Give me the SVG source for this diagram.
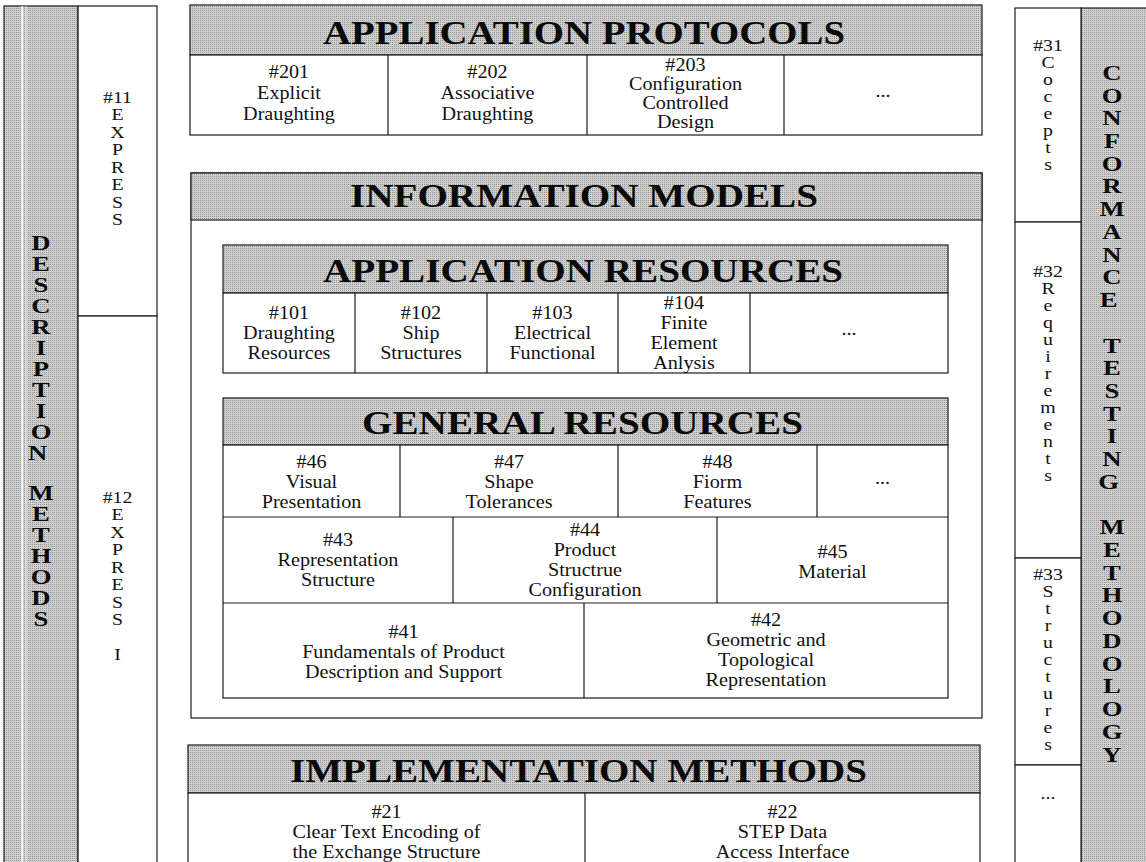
<svg xmlns="http://www.w3.org/2000/svg" width="1146" height="862" viewBox="0 0 1146 862">
  <defs>
    <!-- halftone grey used for all title bands and side columns -->
    <pattern id="dots" width="2" height="2" patternUnits="userSpaceOnUse">
      <rect width="2" height="2" fill="#d0d0d0"/>
      <rect width="1" height="1" fill="#949494"/>
    </pattern>
    <style>
      .hdr{fill:url(#dots);stroke:#1c1c1c;stroke-width:1.2}
      .box{fill:#fff;stroke:#1c1c1c;stroke-width:1.2}
      .ln{stroke:#1c1c1c;stroke-width:1.2;fill:none}
      .ttl{font-family:"Liberation Serif","Times New Roman",serif;font-weight:bold;font-size:34px;fill:#0a0a0a}
      .t{font-family:"Liberation Serif","Times New Roman",serif;font-size:18px;text-anchor:middle;fill:#111}
      .v{font-family:"Liberation Serif","Times New Roman",serif;font-size:16.5px;text-anchor:middle;fill:#111}
      .big{font-family:"Liberation Serif","Times New Roman",serif;font-weight:bold;font-size:21px;text-anchor:middle;fill:#0a0a0a}
    </style>
  </defs>

  <rect width="1146" height="862" fill="#fff"/>

  <!-- left side: description methods -->
  <g id="description-methods">
    <rect class="hdr" x="4" y="6" width="74" height="860"/>
    <line x1="22" y1="6" x2="22" y2="862" stroke="#fff" stroke-width="1.5"/>
    <line x1="26" y1="6" x2="26" y2="862" stroke="#eee" stroke-width="1"/>
    <g transform="translate(41 0) scale(1.27 1)">
      <text class="big">
        <tspan x="0" y="250">D</tspan><tspan x="0" y="271">E</tspan><tspan x="0" y="292">S</tspan><tspan x="0" y="313">C</tspan><tspan x="0" y="334">R</tspan><tspan x="0" y="355">I</tspan><tspan x="0" y="376">P</tspan><tspan x="0" y="397">T</tspan><tspan x="0" y="418">I</tspan><tspan x="0" y="439">O</tspan><tspan x="0" y="460">N</tspan>
        <tspan x="0" y="500">M</tspan><tspan x="0" y="521">E</tspan><tspan x="0" y="542">T</tspan><tspan x="0" y="563">H</tspan><tspan x="0" y="584">O</tspan><tspan x="0" y="605">D</tspan><tspan x="0" y="626">S</tspan>
      </text>
    </g>
  </g>

  <g id="express">
    <rect class="box" x="78" y="6" width="79" height="310"/>
    <g transform="translate(117.5 0) scale(1.2 1)">
      <text class="v">
        <tspan x="0" y="103">#11</tspan><tspan x="0" y="120.5">E</tspan><tspan x="0" y="138">X</tspan><tspan x="0" y="155.5">P</tspan><tspan x="0" y="173">R</tspan><tspan x="0" y="190.5">E</tspan><tspan x="0" y="208">S</tspan><tspan x="0" y="225.5">S</tspan>
      </text>
    </g>
  </g>

  <g id="express-i">
    <rect class="box" x="78" y="316" width="79" height="550"/>
    <g transform="translate(117.5 0) scale(1.2 1)">
      <text class="v">
        <tspan x="0" y="503">#12</tspan><tspan x="0" y="520.5">E</tspan><tspan x="0" y="538">X</tspan><tspan x="0" y="555.5">P</tspan><tspan x="0" y="573">R</tspan><tspan x="0" y="590.5">E</tspan><tspan x="0" y="608">S</tspan><tspan x="0" y="625.5">S</tspan><tspan x="0" y="660">I</tspan>
      </text>
    </g>
  </g>

  <!-- application protocols -->
  <g id="application-protocols">
    <rect class="hdr" x="190" y="5" width="792" height="50"/>
    <text class="ttl" x="323" y="44" textLength="522" lengthAdjust="spacingAndGlyphs">APPLICATION PROTOCOLS</text>
    <rect class="box" x="190" y="55" width="792" height="80"/>
    <path class="ln" d="M388 55V135M587 55V135M784 55V135"/>
    <g transform="translate(289 0) scale(1.12 1)"><text class="t"><tspan x="0" y="78">#201</tspan><tspan x="0" y="99">Explicit</tspan><tspan x="0" y="120">Draughting</tspan></text></g>
    <g transform="translate(487.5 0) scale(1.12 1)"><text class="t"><tspan x="0" y="78">#202</tspan><tspan x="0" y="99">Associative</tspan><tspan x="0" y="120">Draughting</tspan></text></g>
    <g transform="translate(685.5 0) scale(1.12 1)"><text class="t"><tspan x="0" y="71">#203</tspan><tspan x="0" y="90">Configuration</tspan><tspan x="0" y="109">Controlled</tspan><tspan x="0" y="128">Design</tspan></text></g>
    <g transform="translate(883 0) scale(1.12 1)"><text class="t" x="0" y="97">...</text></g>
  </g>

  <!-- information models frame -->
  <g id="information-models">
    <rect class="box" x="191" y="173" width="791" height="545"/>
    <rect class="hdr" x="191" y="173" width="791" height="47"/>
    <text class="ttl" x="350" y="207" textLength="468" lengthAdjust="spacingAndGlyphs">INFORMATION MODELS</text>
  </g>

  <g id="application-resources">
    <rect class="hdr" x="223" y="245" width="725" height="48"/>
    <text class="ttl" x="323" y="282" textLength="520" lengthAdjust="spacingAndGlyphs">APPLICATION RESOURCES</text>
    <rect class="box" x="223" y="293" width="725" height="80"/>
    <path class="ln" d="M355 293V373M487 293V373M618 293V373M750 293V373"/>
    <g transform="translate(289 0) scale(1.12 1)"><text class="t"><tspan x="0" y="319">#101</tspan><tspan x="0" y="339">Draughting</tspan><tspan x="0" y="359">Resources</tspan></text></g>
    <g transform="translate(421 0) scale(1.12 1)"><text class="t"><tspan x="0" y="319">#102</tspan><tspan x="0" y="339">Ship</tspan><tspan x="0" y="359">Structures</tspan></text></g>
    <g transform="translate(552.5 0) scale(1.12 1)"><text class="t"><tspan x="0" y="319">#103</tspan><tspan x="0" y="339">Electrical</tspan><tspan x="0" y="359">Functional</tspan></text></g>
    <g transform="translate(684 0) scale(1.12 1)"><text class="t"><tspan x="0" y="309">#104</tspan><tspan x="0" y="329">Finite</tspan><tspan x="0" y="349">Element</tspan><tspan x="0" y="369">Anlysis</tspan></text></g>
    <g transform="translate(849 0) scale(1.12 1)"><text class="t" x="0" y="335">...</text></g>
  </g>

  <g id="general-resources">
    <rect class="hdr" x="223" y="398" width="725" height="47"/>
    <text class="ttl" x="362" y="434" textLength="441" lengthAdjust="spacingAndGlyphs">GENERAL RESOURCES</text>
    <rect class="box" x="223" y="445" width="725" height="253"/>
    <path class="ln" d="M223 517H948M223 603H948M400 445V517M618 445V517M817 445V517M453 517V603M717 517V603M584 603V698"/>
    <g transform="translate(311.5 0) scale(1.12 1)"><text class="t"><tspan x="0" y="468">#46</tspan><tspan x="0" y="488">Visual</tspan><tspan x="0" y="508">Presentation</tspan></text></g>
    <g transform="translate(509 0) scale(1.12 1)"><text class="t"><tspan x="0" y="468">#47</tspan><tspan x="0" y="488">Shape</tspan><tspan x="0" y="508">Tolerances</tspan></text></g>
    <g transform="translate(717.5 0) scale(1.12 1)"><text class="t"><tspan x="0" y="468">#48</tspan><tspan x="0" y="488">Fiorm</tspan><tspan x="0" y="508">Features</tspan></text></g>
    <g transform="translate(882.5 0) scale(1.12 1)"><text class="t" x="0" y="484">...</text></g>
    <g transform="translate(338 0) scale(1.12 1)"><text class="t"><tspan x="0" y="546">#43</tspan><tspan x="0" y="566">Representation</tspan><tspan x="0" y="586">Structure</tspan></text></g>
    <g transform="translate(585 0) scale(1.12 1)"><text class="t"><tspan x="0" y="536">#44</tspan><tspan x="0" y="556">Product</tspan><tspan x="0" y="576">Structrue</tspan><tspan x="0" y="596">Configuration</tspan></text></g>
    <g transform="translate(832.5 0) scale(1.12 1)"><text class="t"><tspan x="0" y="558">#45</tspan><tspan x="0" y="578">Material</tspan></text></g>
    <g transform="translate(403.5 0) scale(1.12 1)"><text class="t"><tspan x="0" y="638">#41</tspan><tspan x="0" y="658">Fundamentals of Product</tspan><tspan x="0" y="678">Description and Support</tspan></text></g>
    <g transform="translate(766 0) scale(1.12 1)"><text class="t"><tspan x="0" y="626">#42</tspan><tspan x="0" y="646">Geometric and</tspan><tspan x="0" y="666">Topological</tspan><tspan x="0" y="686">Representation</tspan></text></g>
  </g>

  <!-- implementation methods -->
  <g id="implementation-methods">
    <rect class="hdr" x="188" y="745" width="792" height="48"/>
    <text class="ttl" x="290" y="782" textLength="577" lengthAdjust="spacingAndGlyphs">IMPLEMENTATION METHODS</text>
    <rect class="box" x="188" y="793" width="792" height="80"/>
    <path class="ln" d="M585 793V862"/>
    <g transform="translate(386.5 0) scale(1.12 1)"><text class="t"><tspan x="0" y="818">#21</tspan><tspan x="0" y="838">Clear Text Encoding of</tspan><tspan x="0" y="858">the Exchange Structure</tspan></text></g>
    <g transform="translate(782.5 0) scale(1.12 1)"><text class="t"><tspan x="0" y="818">#22</tspan><tspan x="0" y="838">STEP Data</tspan><tspan x="0" y="858">Access Interface</tspan></text></g>
  </g>

  <!-- right side: conformance testing methodology -->
  <g id="conformance-testing">
    <rect class="hdr" x="1081" y="8" width="70" height="860"/>
    <g transform="translate(1112 0) scale(1.27 1)">
      <text class="big">
        <tspan x="0" y="80">C</tspan><tspan x="0" y="103">O</tspan><tspan x="0" y="125">N</tspan><tspan x="0" y="148">F</tspan><tspan x="0" y="171">O</tspan><tspan x="0" y="193">R</tspan><tspan x="0" y="216">M</tspan><tspan x="0" y="239">A</tspan><tspan x="0" y="262">N</tspan><tspan x="0" y="284">C</tspan><tspan x="0" y="307">E</tspan>
        <tspan x="0" y="353">T</tspan><tspan x="0" y="375">E</tspan><tspan x="0" y="398">S</tspan><tspan x="0" y="421">T</tspan><tspan x="0" y="443">I</tspan><tspan x="0" y="466">N</tspan><tspan x="0" y="489">G</tspan>
        <tspan x="0" y="534">M</tspan><tspan x="0" y="557">E</tspan><tspan x="0" y="580">T</tspan><tspan x="0" y="602">H</tspan><tspan x="0" y="625">O</tspan><tspan x="0" y="648">D</tspan><tspan x="0" y="671">O</tspan><tspan x="0" y="693">L</tspan><tspan x="0" y="716">O</tspan><tspan x="0" y="739">G</tspan><tspan x="0" y="762">Y</tspan>
      </text>
    </g>
  </g>

  <g id="concepts">
    <rect class="box" x="1015" y="8" width="66" height="214"/>
    <g transform="translate(1048 0) scale(1.2 1)">
      <text class="v"><tspan x="0" y="51">#31</tspan><tspan x="0" y="68">C</tspan><tspan x="0" y="85">o</tspan><tspan x="0" y="102">c</tspan><tspan x="0" y="119">e</tspan><tspan x="0" y="136">p</tspan><tspan x="0" y="153">t</tspan><tspan x="0" y="170">s</tspan></text>
    </g>
  </g>

  <g id="requirements">
    <rect class="box" x="1015" y="222" width="66" height="336"/>
    <g transform="translate(1048 0) scale(1.2 1)">
      <text class="v"><tspan x="0" y="277">#32</tspan><tspan x="0" y="294">R</tspan><tspan x="0" y="311">e</tspan><tspan x="0" y="328">q</tspan><tspan x="0" y="345">u</tspan><tspan x="0" y="362">i</tspan><tspan x="0" y="379">r</tspan><tspan x="0" y="396">e</tspan><tspan x="0" y="413">m</tspan><tspan x="0" y="430">e</tspan><tspan x="0" y="447">n</tspan><tspan x="0" y="464">t</tspan><tspan x="0" y="481">s</tspan></text>
    </g>
  </g>

  <g id="structures">
    <rect class="box" x="1015" y="558" width="66" height="207"/>
    <g transform="translate(1048 0) scale(1.2 1)">
      <text class="v"><tspan x="0" y="580">#33</tspan><tspan x="0" y="597">S</tspan><tspan x="0" y="614">t</tspan><tspan x="0" y="631">r</tspan><tspan x="0" y="648">u</tspan><tspan x="0" y="665">c</tspan><tspan x="0" y="682">t</tspan><tspan x="0" y="699">u</tspan><tspan x="0" y="716">r</tspan><tspan x="0" y="733">e</tspan><tspan x="0" y="750">s</tspan></text>
    </g>
  </g>

  <g id="more-conformance">
    <rect class="box" x="1015" y="765" width="66" height="110"/>
    <g transform="translate(1048 0) scale(1.2 1)"><text class="v" x="0" y="799">...</text></g>
  </g>
</svg>
